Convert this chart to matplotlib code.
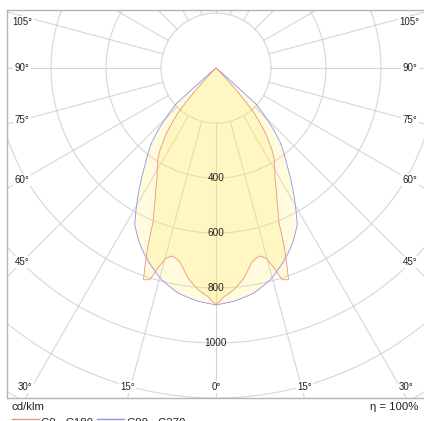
import numpy as np
import matplotlib.pyplot as plt

plt.rcParams['font.family'] = ['Liberation Sans', 'DejaVu Sans']

# luminous intensity (cd/klm) against angle from nadir, half plane
gamma_c0 = [0, 2.0, 4.6, 7.6, 10.5, 12.9, 14.7, 16.2, 17.3, 18.9, 19.8, 21.0,
            22.2, 24.5, 28.2, 32.8, 34.3, 37.4, 40.6, 43.0, 45.0]
cd_c0 = [861, 832, 809, 770, 717, 701, 714, 756, 806, 814, 761, 689,
         604, 535, 453, 389, 361, 293, 201, 76, 0]

gamma_c90 = [0, 4.3, 9.5, 14.4, 19.3, 23.2, 27.4, 30.1, 33.0, 36.2, 40.8,
             44.5, 48.1, 48.6, 50.0]
cd_c90 = [861, 851, 830, 795, 745, 700, 642, 575, 507, 437, 358,
          273, 192, 93, 0]

rings = [200, 400, 600, 800, 1000, 1200, 1400]
ring_labels = [400, 600, 800, 1000]
side_angles = [105, 90, 75, 60, 45]
bottom_angles = [-30, -15, 0, 15, 30]
eta = 100

XMAX, YTOP, YBOT = 760, 211, -1200

fig = plt.figure(figsize=(4.24, 4.21), dpi=100)
ax = fig.add_axes([7 / 424, 23 / 421, 418 / 424, 388 / 421])
ax.set_xlim(-XMAX, XMAX)
ax.set_ylim(YBOT, YTOP)
ax.set_aspect('equal')
ax.set_xticks([])
ax.set_yticks([])
for s in ax.spines.values():
    s.set_color('#b4b4b4')
    s.set_linewidth(1.0)

grid_c = '#d6d6d6'
t = np.linspace(0, 2 * np.pi, 721)
for r in rings:
    ax.plot(r * np.cos(t), r * np.sin(t), color=grid_c, lw=0.8, zorder=1)
for a in range(0, 360, 15):
    ar = np.radians(a)
    ax.plot([200 * np.sin(ar), 2000 * np.sin(ar)],
            [-200 * np.cos(ar), -2000 * np.cos(ar)],
            color=grid_c, lw=0.8, zorder=1)


def outline(gam, cd):
    g = np.linspace(0, gam[-1], 500)
    i = np.interp(g, gam, cd)
    g = np.radians(g)
    x = np.concatenate([-i * np.sin(g), (i * np.sin(g))[::-1]])
    y = np.concatenate([-i * np.cos(g), (-i * np.cos(g))[::-1]])
    return x, y


fill_c = (1.0, 0.93, 0.40, 0.22)
for gam, cd, col in [(gamma_c90, cd_c90, '#9090ee'), (gamma_c0, cd_c0, '#f09080')]:
    x, y = outline(gam, cd)
    ax.fill(x, y, color=fill_c, lw=0, zorder=2)
    ax.plot(x, y, color=col, lw=0.6, zorder=3)

for r in ring_labels:
    ax.text(0, -r, str(r), ha='center', va='center', fontsize=7.2,
            color='#222222', zorder=5)

box = dict(fc='white', ec='none', pad=1.0)
lx = XMAX - 55
for a in side_angles:
    y = -lx / np.tan(np.radians(a))
    y = min(y, YTOP - 45)
    for sx in (-1, 1):
        ax.text(sx * lx, y, f'{a}°', ha='center', va='center', fontsize=7,
                color='#222222', bbox=box, zorder=5)
for a in bottom_angles:
    x = YBOT * -np.tan(np.radians(a))
    x = float(np.clip(x, -lx, lx))
    ax.text(x, YBOT + 40, f'{abs(a)}°', ha='center', va='center',
            fontsize=7, color='#222222', bbox=box, zorder=5)

fig.text(12 / 424, 1 - 407 / 421, 'cd/klm', fontsize=8.2, va='center',
         color='#222222')
fig.text(418 / 424, 1 - 407 / 421, f'η = {eta}%', fontsize=8.2, va='center',
         ha='right', color='#222222')

# legend row along the bottom edge
ly = 1 - 419 / 421
fig.add_artist(plt.Line2D([12 / 424, 39 / 424], [ly, ly], color='#f09080', lw=1.0))
fig.text(41 / 424, 1 - 417.5 / 421, 'C0 - C180', fontsize=8.2, va='top', color='#222222')
fig.add_artist(plt.Line2D([97 / 424, 124 / 424], [ly, ly], color='#9090ee', lw=1.0))
fig.text(127 / 424, 1 - 417.5 / 421, 'C90 - C270', fontsize=8.2, va='top', color='#222222')

fig.savefig('out.png', dpi=100)
